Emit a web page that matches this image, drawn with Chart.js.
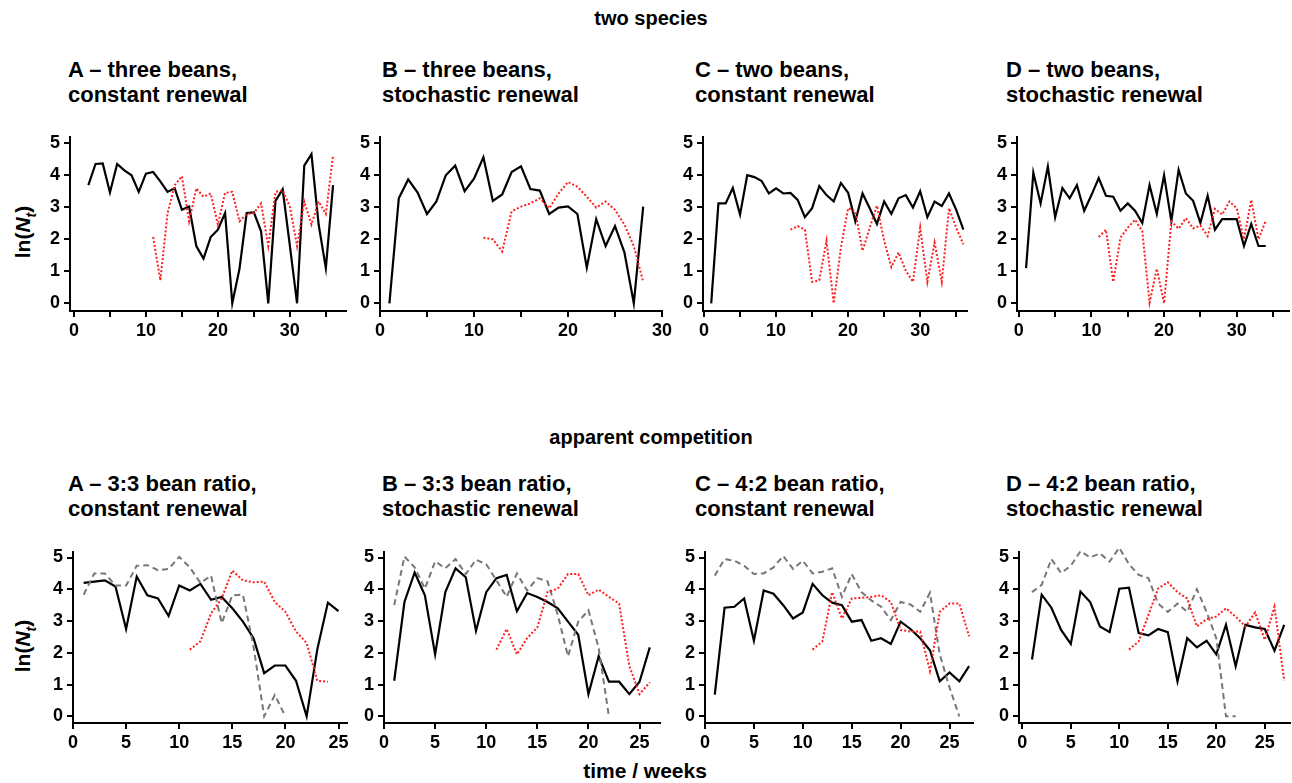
<!DOCTYPE html>
<html>
<head>
<meta charset="utf-8">
<script src="https://cdn.jsdelivr.net/npm/chart.js@4.4.1/dist/chart.umd.min.js"></script>
<style>
html, body { margin: 0; padding: 0; background: #fff; width: 1292px; height: 783px; overflow: hidden; position: relative;
  font-family: "Liberation Sans", Arial, sans-serif; color: #000; }
.t { position: absolute; font-weight: bold; white-space: nowrap; }
.head { font-size: 20px; transform: translate(-50%, -50%); }
.ptitle { font-size: 22px; line-height: 25px; }
.ylab { font-size: 21px; transform: translate(-50%, -50%) rotate(-90deg); }
canvas { position: absolute; }
</style>
</head>
<body>
<div class="t head" style="left:651px; top:18px">two species</div>
<div class="t head" style="left:651px; top:437px">apparent competition</div>
<div class="t head" style="left:645px; top:771px; font-size:21px">time / weeks</div>

<div class="t ptitle" style="left:68px; top:57px">A – three beans,<br>constant renewal</div>
<div class="t ptitle" style="left:382px; top:57px">B – three beans,<br>stochastic renewal</div>
<div class="t ptitle" style="left:695px; top:57px">C – two beans,<br>constant renewal</div>
<div class="t ptitle" style="left:1006px; top:57px">D – two beans,<br>stochastic renewal</div>

<div class="t ptitle" style="left:68px; top:471px">A – 3:3 bean ratio,<br>constant renewal</div>
<div class="t ptitle" style="left:382px; top:471px">B – 3:3 bean ratio,<br>stochastic renewal</div>
<div class="t ptitle" style="left:695px; top:471px">C – 4:2 bean ratio,<br>constant renewal</div>
<div class="t ptitle" style="left:1006px; top:471px">D – 4:2 bean ratio,<br>stochastic renewal</div>

<div class="t ylab" style="left:25px; top:232px">ln(<i>N<sub style="font-size:14px">t</sub></i>)</div>
<div class="t ylab" style="left:25px; top:646px">ln(<i>N<sub style="font-size:14px">t</sub></i>)</div>

<script>
// weeks start at the first index given next to each series
const topA_black_start = 2;
const topA_black = [3.69, 4.35, 4.37, 3.46, 4.35, 4.15, 4.0, 3.48, 4.05, 4.1, 3.81, 3.48, 3.59, 2.92, 3.02, 1.79, 1.4, 2.07,
  2.3, 2.82, 0, 1.08, 2.82, 2.84, 2.25, 0, 3.2, 3.56, 1.8, 0, 4.3, 4.66, 2.46, 1.1, 3.69];
const topA_red_start = 11;
const topA_red = [2.07, 0.72, 2.8, 3.69, 3.97, 2.56, 3.59, 3.33, 3.43, 2.46, 3.45, 3.48, 2.56, 2.79, 2.82, 3.12, 1.79,
  3.48, 3.53, 3.02, 1.79, 3.18, 2.46, 3.18, 2.79, 4.61];

const topB_black_start = 1;
const topB_black = [0, 3.28, 3.87, 3.46, 2.79, 3.18, 4.0, 4.3, 3.5, 3.89, 4.56, 3.2, 3.4, 4.1, 4.28, 3.57, 3.52, 2.79,
  2.99, 3.03, 2.79, 1.11, 2.63, 1.79, 2.41, 1.59, 0, 3.02];
const topB_red_start = 11;
const topB_red = [2.05, 2.0, 1.62, 2.87, 3.02, 3.12, 3.28, 2.97, 3.43, 3.79, 3.64, 3.33, 2.99, 3.18, 2.92, 2.46, 1.79, 0.67];

const topC_black_start = 1;
const topC_black = [0, 3.12, 3.12, 3.6, 2.77, 4.0, 3.94, 3.82, 3.43, 3.59, 3.43, 3.45, 3.23, 2.69, 2.97, 3.66, 3.38, 3.18,
  3.76, 3.45, 2.56, 3.43, 2.97, 2.48, 3.18, 2.79, 3.28, 3.38, 2.99, 3.5, 2.69, 3.18, 3.04, 3.43, 2.92, 2.3];
const topC_red_start = 12;
const topC_red = [2.3, 2.41, 2.3, 0.67, 0.72, 1.95, 0, 1.74, 2.97, 2.87, 1.64, 2.36, 3.05, 1.95, 1.13, 1.59, 1.02, 0.67,
  2.36, 0.67, 1.9, 0.67, 2.97, 2.36, 1.84];

const topD_black_start = 1;
const topD_black = [1.1, 4.08, 3.12, 4.27, 2.69, 3.6, 3.28, 3.69, 2.89, 3.38, 3.91, 3.36, 3.33, 2.89, 3.12, 2.89, 2.51,
  3.69, 2.79, 4.0, 2.56, 4.17, 3.43, 3.2, 2.51, 3.36, 2.3, 2.63, 2.63, 2.63, 1.79, 2.48, 1.79, 1.79];
const topD_red_start = 11;
const topD_red = [2.07, 2.3, 0.67, 2.05, 2.36, 2.61, 2.25, 0.02, 1.08, 0, 2.56, 2.33, 2.66, 2.34, 2.43, 2.1, 2.95, 2.77,
  3.18, 2.97, 2.0, 3.23, 2.0, 2.58];

const botA_black_start = 1;
const botA_black = [4.2, 4.24, 4.28, 4.09, 2.75, 4.4, 3.81, 3.71, 3.16, 4.12, 3.96, 4.17, 3.67, 3.76, 3.4, 2.98, 2.46,
  1.36, 1.6, 1.6, 1.12, 0, 2.1, 3.58, 3.31];
const botA_gray_start = 1;
const botA_gray = [3.83, 4.5, 4.5, 4.12, 4.12, 4.74, 4.76, 4.6, 4.64, 5.02, 4.69, 4.2, 4.43, 2.93, 3.81, 3.83, 2.2, 0, 0.67, 0];
const botA_red_start = 11;
const botA_red = [2.1, 2.36, 3.24, 3.71, 4.59, 4.28, 4.22, 4.24, 3.6, 3.29, 2.67, 2.31, 1.12, 1.09];

const botB_black_start = 1;
const botB_black = [1.12, 3.6, 4.53, 3.81, 1.95, 3.91, 4.66, 4.38, 2.69, 3.91, 4.35, 4.45, 3.31, 3.88, 3.76, 3.6, 3.4,
  2.98, 2.57, 0.7, 1.89, 1.09, 1.09, 0.7, 1.09, 2.17];
const botB_gray_start = 1;
const botB_gray = [3.5, 5.03, 4.69, 4.02, 4.88, 4.66, 4.95, 4.48, 4.93, 4.79, 4.28, 3.76, 4.5, 3.96, 4.35, 4.25, 3.19,
  1.89, 2.98, 3.34, 2.15, 0];
const botB_red_start = 11;
const botB_red = [2.1, 2.75, 1.95, 2.46, 2.8, 3.91, 4.02, 4.48, 4.48, 3.81, 3.99, 3.76, 3.55, 1.58, 0.7, 1.07];

const botC_black_start = 1;
const botC_black = [0.68, 3.42, 3.45, 3.71, 2.38, 3.96, 3.86, 3.5, 3.08, 3.27, 4.17, 3.81, 3.58, 3.5, 2.98, 3.03, 2.38,
  2.46, 2.28, 2.98, 2.75, 2.46, 2.08, 1.1, 1.38, 1.1, 1.58];
const botC_gray_start = 1;
const botC_gray = [4.43, 4.95, 4.9, 4.74, 4.48, 4.5, 4.69, 5.05, 4.64, 4.9, 4.5, 4.55, 4.66, 3.76, 4.48, 3.91, 3.65,
  3.45, 3.03, 3.6, 3.52, 3.29, 3.89, 1.95, 0.91, 0];
const botC_red_start = 11;
const botC_red = [2.1, 2.36, 3.91, 3.08, 3.71, 3.73, 3.76, 3.81, 3.6, 2.72, 2.67, 2.67, 1.43, 3.29, 3.55, 3.55, 2.52];

const botD_black_start = 1;
const botD_black = [1.79, 3.83, 3.42, 2.72, 2.28, 3.93, 3.6, 2.83, 2.65, 4.02, 4.05, 2.62, 2.55, 2.75, 2.65, 1.1, 2.46,
  2.17, 2.38, 1.95, 2.88, 1.58, 2.88, 2.8, 2.75, 2.07, 2.88];
const botD_gray_start = 1;
const botD_gray = [3.91, 4.14, 4.95, 4.51, 4.74, 5.2, 5.0, 5.13, 4.87, 5.31, 4.79, 4.45, 4.35, 3.55, 3.29, 3.55, 3.29,
  4.0, 3.29, 2.46, 0, 0];
const botD_red_start = 11;
const botD_red = [2.1, 2.36, 3.19, 4.02, 4.22, 3.91, 3.71, 2.83, 3.06, 3.14, 3.4, 3.14, 2.83, 3.27, 2.41, 3.45, 1.12];

const yTicks = [0, 1, 2, 3, 4, 5];
const xTicksTop = [0, 5, 10, 15, 20, 25, 30, 35];
const xLabelsTop = [0, 10, 20, 30];
const xTicksBot = [0, 5, 10, 15, 20, 25];

const FONT = '"Liberation Sans", Arial, sans-serif';
const Y_AXIS_W = 44;
const X_AXIS_H = 36;
const PAD_TOP = 12;
const PAD_RIGHT = 14;

function pts(start, values) {
  return values.map((v, i) => ({ x: start + i, y: v }));
}

const STYLE = {
  black: { borderColor: '#000', borderWidth: 2.2 },
  red: { borderColor: '#ff1f1f', borderWidth: 2, borderDash: [2, 2] },
  gray: { borderColor: '#777', borderWidth: 2, borderDash: [6, 4] },
};

function line(kind, start, values) {
  return Object.assign({ data: pts(start, values), pointRadius: 0, tension: 0, fill: false, clip: false }, STYLE[kind]);
}

const panels = [
  { top: 134, bottom: 311, left: 70, right: 346, xmin: -0.55, xmax: 37.8, xt: xTicksTop, xl: xLabelsTop,
    lines: [line('red', topA_red_start, topA_red), line('black', topA_black_start, topA_black)] },
  { top: 134, bottom: 311, left: 380, right: 662, xmin: 0, xmax: 30, xt: xTicksTop.filter(v => v <= 30), xl: xLabelsTop,
    lines: [line('red', topB_red_start, topB_red), line('black', topB_black_start, topB_black)] },
  { top: 134, bottom: 311, left: 703, right: 967, xmin: -0.14, xmax: 36.5, xt: xTicksTop, xl: xLabelsTop,
    lines: [line('red', topC_red_start, topC_red), line('black', topC_black_start, topC_black)] },
  { top: 134, bottom: 311, left: 1017, right: 1289, xmin: -0.25, xmax: 37.2, xt: xTicksTop, xl: xLabelsTop,
    lines: [line('red', topD_red_start, topD_red), line('black', topD_black_start, topD_black)] },
  { top: 549, bottom: 723, left: 73, right: 347, xmin: 0, xmax: 25.8, xt: xTicksBot, xl: xTicksBot,
    lines: [line('red', botA_red_start, botA_red), line('gray', botA_gray_start, botA_gray), line('black', botA_black_start, botA_black)] },
  { top: 549, bottom: 723, left: 384, right: 660, xmin: 0, xmax: 27, xt: xTicksBot, xl: xTicksBot,
    lines: [line('red', botB_red_start, botB_red), line('gray', botB_gray_start, botB_gray), line('black', botB_black_start, botB_black)] },
  { top: 549, bottom: 723, left: 705, right: 973, xmin: 0, xmax: 27.4, xt: xTicksBot, xl: xTicksBot,
    lines: [line('red', botC_red_start, botC_red), line('gray', botC_gray_start, botC_gray), line('black', botC_black_start, botC_black)] },
  { top: 549, bottom: 723, left: 1019, right: 1290, xmin: -0.34, xmax: 27.6, xt: xTicksBot, xl: xTicksBot,
    lines: [line('red', botD_red_start, botD_red), line('gray', botD_gray_start, botD_gray), line('black', botD_black_start, botD_black)] },
];

function axisStyle() {
  return {
    grid: { display: true, drawOnChartArea: false, drawTicks: true, tickLength: 6, color: '#000', lineWidth: 2 },
    border: { display: true, color: '#000', width: 2 },
  };
}

panels.forEach((p) => {
  const canvas = document.createElement('canvas');
  const cl = p.left - Y_AXIS_W;
  const ct = p.top - PAD_TOP;
  const w = p.right + PAD_RIGHT - cl;
  const h = p.bottom + X_AXIS_H - ct;
  canvas.width = w;
  canvas.height = h;
  canvas.style.left = cl + 'px';
  canvas.style.top = ct + 'px';
  canvas.style.width = w + 'px';
  canvas.style.height = h + 'px';
  document.body.appendChild(canvas);

  // the top row is a bit taller per unit, so pad the y range to the axis ends
  const ymax = p.top === 134 ? 5.2 : 5.18;
  const ymin = p.top === 134 ? -0.24 : -0.21;

  new Chart(canvas, {
    type: 'line',
    data: { datasets: p.lines },
    options: {
      responsive: false,
      animation: false,
      devicePixelRatio: 1,
      layout: { padding: { top: PAD_TOP, right: PAD_RIGHT, left: 0, bottom: 0 } },
      plugins: { legend: { display: false }, tooltip: { enabled: false } },
      scales: {
        x: Object.assign(axisStyle(), {
          type: 'linear', min: p.xmin, max: p.xmax,
          afterBuildTicks: (ax) => { ax.ticks = p.xt.map((v) => ({ value: v })); },
          afterFit: (ax) => { ax.height = X_AXIS_H; },
          ticks: {
            autoSkip: false, maxRotation: 0, padding: 3, color: '#000',
            font: { family: FONT, size: 18, weight: 'bold' },
            callback: (v) => (p.xl.includes(v) ? String(v) : ''),
          },
        }),
        y: Object.assign(axisStyle(), {
          type: 'linear', min: ymin, max: ymax,
          afterBuildTicks: (ax) => { ax.ticks = yTicks.map((v) => ({ value: v })); },
          afterFit: (ax) => { ax.width = Y_AXIS_W; },
          ticks: {
            padding: 4, color: '#000',
            font: { family: FONT, size: 18, weight: 'bold' },
          },
        }),
      },
    },
  });
});
</script>
</body>
</html>
